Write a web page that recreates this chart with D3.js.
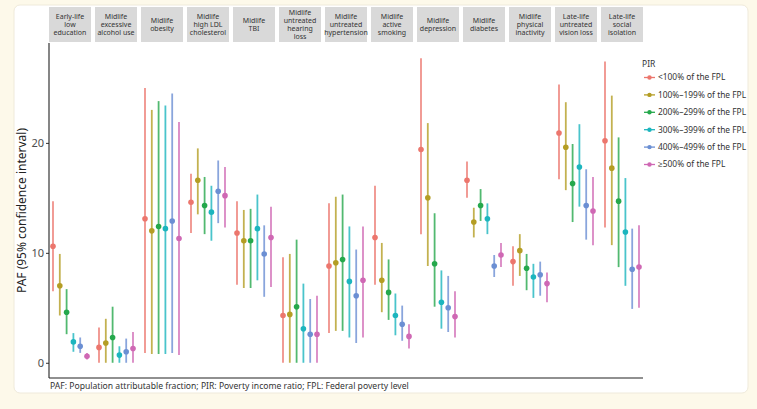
<!DOCTYPE html>
<html>
<head>
<meta charset="utf-8">
<script src="https://cdn.jsdelivr.net/npm/d3@7"></script>
<style>
  body { margin: 0; background: #fdf9ea; font-family: "Noto Sans", "Open Sans", sans-serif; }
  #chart svg { display: block; }
</style>
</head>
<body>
<div id="chart"></div>
<script>
// risk factors (one facet each), strip text split by line
var risks = [
    ["Early-life", "low", "education"],
    ["Midlife", "excessive", "alcohol use"],
    ["Midlife", "obesity"],
    ["Midlife", "high LDL", "cholesterol"],
    ["Midlife", "TBI"],
    ["Midlife", "untreated", "hearing", "loss"],
    ["Midlife", "untreated", "hypertension"],
    ["Midlife", "active", "smoking"],
    ["Midlife", "depression"],
    ["Midlife", "diabetes"],
    ["Midlife", "physical", "inactivity"],
    ["Late-life", "untreated", "vision loss"],
    ["Late-life", "social", "isolation"]
];

var pirGroups = ["<100% of the FPL", "100%\u2013199% of the FPL", "200%\u2013299% of the FPL",
    "300%\u2013399% of the FPL", "400%\u2013499% of the FPL", "\u2265500% of the FPL"];

var pirColors = ["#ec766d", "#b49d24", "#25a84c", "#1cb5be", "#6b8fd3", "#cf68b4"];

// PAF estimate per risk, one value per PIR group
var pafEst = [
    [10.6, 7.0, 4.6, 1.9, 1.5, 0.6],
    [1.4, 1.8, 2.3, 0.7, 1.0, 1.3],
    [13.1, 12.0, 12.4, 12.2, 12.9, 11.3],
    [14.6, 16.6, 14.3, 13.7, 15.6, 15.2],
    [11.8, 11.1, 11.1, 12.2, 9.9, 11.4],
    [4.3, 4.4, 5.1, 3.1, 2.6, 2.6],
    [8.8, 9.1, 9.4, 7.4, 6.1, 7.5],
    [11.4, 7.5, 6.4, 4.3, 3.5, 2.4],
    [19.4, 15.0, 9.0, 5.5, 5.0, 4.2],
    [16.6, 12.8, 14.3, 13.1, 8.8, 9.8],
    [9.2, 10.2, 8.6, 7.8, 8.0, 7.2],
    [20.9, 19.6, 16.3, 17.8, 14.3, 13.8],
    [20.2, 17.7, 14.7, 11.9, 8.5, 8.7]
];

var pafLow = [
    [6.5, 4.3, 2.6, 1.0, 0.9, 0.3],
    [0.0, 0.0, 0.0, 0.0, 0.0, 0.0],
    [0.9, 0.8, 0.8, 0.8, 0.9, 0.7],
    [11.8, 13.5, 11.7, 11.1, 12.7, 12.3],
    [7.1, 6.8, 6.8, 7.5, 6.0, 6.9],
    [0.0, 0.0, 0.0, 0.0, 0.0, 0.0],
    [2.7, 2.9, 2.9, 2.3, 1.8, 2.3],
    [7.1, 4.6, 3.9, 2.5, 2.0, 1.3],
    [11.7, 8.8, 5.1, 3.1, 2.8, 2.3],
    [15.0, 11.4, 12.9, 11.7, 7.8, 8.7],
    [7.0, 7.9, 6.6, 5.9, 6.1, 5.5],
    [16.7, 15.7, 12.8, 14.2, 11.2, 10.7],
    [12.3, 10.7, 8.7, 7.0, 4.9, 5.0]
];

var pafHigh = [
    [14.7, 9.9, 6.7, 2.7, 2.3, 0.9],
    [3.2, 4.0, 5.1, 1.5, 2.2, 2.8],
    [25.0, 23.0, 23.8, 23.4, 24.5, 21.9],
    [17.2, 19.5, 16.9, 16.1, 18.4, 17.8],
    [14.7, 13.9, 14.0, 15.3, 12.5, 14.2],
    [9.6, 9.9, 11.2, 7.2, 5.8, 6.1],
    [14.5, 15.1, 15.3, 12.4, 10.3, 12.4],
    [16.1, 10.9, 9.4, 6.3, 5.2, 3.5],
    [27.7, 21.8, 13.6, 8.4, 7.9, 6.5],
    [18.3, 14.1, 15.8, 14.5, 9.8, 10.9],
    [10.6, 11.7, 9.9, 9.0, 9.2, 8.2],
    [25.3, 23.7, 19.9, 21.7, 17.6, 16.9],
    [27.4, 24.3, 20.5, 16.8, 12.2, 12.5]
];

var yTicks = [0, 10, 20];
var footnote = "PAF: Population attributable fraction; PIR: Poverty income ratio; FPL: Federal poverty level";

var width = 757, height = 409;
var plotLeft = 49, plotRight = 643, plotTop = 43, plotBottom = 378;
var stripTop = 7;

var svg = d3.select("#chart").append("svg")
    .attr("width", width)
    .attr("height", height);

// card
svg.append("rect")
    .attr("x", 14).attr("y", 5)
    .attr("width", 734).attr("height", 388)
    .attr("rx", 6)
    .attr("fill", "#ffffff")
    .attr("stroke", "#efeadb");

// flatten rows
var rows = [];
risks.forEach(function(r, i) {
    pirGroups.forEach(function(g, j) {
        rows.push({risk: i, group: j, est: pafEst[i][j], lo: pafLow[i][j], hi: pafHigh[i][j]});
    });
});

var facetScale = d3.scaleBand()
    .domain(d3.range(risks.length))
    .range([plotLeft, plotRight])
    .paddingInner(4 / 46)
    .paddingOuter(0);

var dodge = d3.scalePoint()
    .domain(d3.range(pirGroups.length))
    .range([4, facetScale.bandwidth() - 4]);

var yMin = d3.min(rows, function(d) { return d.lo; });
var yMax = d3.max(rows, function(d) { return d.hi; });
var pad = (yMax - yMin) * 0.05;
var yScale = d3.scaleLinear()
    .domain([yMin - pad, yMax + pad])
    .range([plotBottom, plotTop]);

// strips
var strips = svg.selectAll("g.strip")
    .data(risks)
    .enter().append("g")
    .attr("class", "strip")
    .attr("transform", function(d, i) { return "translate(" + facetScale(i) + "," + stripTop + ")"; });

strips.append("rect")
    .attr("width", facetScale.bandwidth())
    .attr("height", plotTop - stripTop - 1)
    .attr("fill", "#d9d9d9");

strips.append("text")
    .attr("text-anchor", "middle")
    .attr("font-size", 7)
    .attr("fill", "#333")
    .each(function(lines) {
        var t = d3.select(this);
        var lh = 8.2;
        var mid = (plotTop - stripTop - 1) / 2;
        var start = mid - (lines.length - 1) * lh / 2 + 2.5;
        lines.forEach(function(l, k) {
            t.append("tspan")
                .attr("x", facetScale.bandwidth() / 2)
                .attr("y", start + k * lh)
                .text(l);
        });
    });

// y axis
var yAxis = svg.append("g")
    .attr("transform", "translate(" + plotLeft + ",0)")
    .call(d3.axisLeft(yScale).tickValues(yTicks).tickSize(3).tickPadding(2).tickSizeOuter(0));
yAxis.select(".domain").remove();
yAxis.selectAll("text")
    .attr("font-family", "Noto Sans, sans-serif")
    .attr("font-size", 11)
    .attr("fill", "#4d4d4d");
yAxis.selectAll("line").attr("stroke", "#333");

svg.append("line")
    .attr("x1", plotLeft).attr("x2", plotLeft)
    .attr("y1", plotTop).attr("y2", plotBottom)
    .attr("stroke", "#222").attr("stroke-width", 1.1);
svg.append("line")
    .attr("x1", plotLeft).attr("x2", plotRight)
    .attr("y1", plotBottom).attr("y2", plotBottom)
    .attr("stroke", "#222").attr("stroke-width", 1.1);

svg.append("text")
    .attr("transform", "translate(22," + ((plotTop + plotBottom) / 2) + ") rotate(-90)")
    .attr("text-anchor", "middle")
    .attr("dy", "0.35em")
    .attr("font-size", 12)
    .attr("fill", "#222")
    .text("PAF (95% confidence interval)");

// ranges + points
var xPos = function(d) { return facetScale(d.risk) + dodge(d.group); };

svg.append("g").selectAll("line")
    .data(rows)
    .enter().append("line")
    .attr("x1", xPos).attr("x2", xPos)
    .attr("y1", function(d) { return yScale(d.lo); })
    .attr("y2", function(d) { return yScale(d.hi); })
    .attr("stroke", function(d) { return pirColors[d.group]; })
    .attr("stroke-opacity", 0.8)
    .attr("stroke-width", 1.8);

svg.append("g").selectAll("circle")
    .data(rows)
    .enter().append("circle")
    .attr("cx", xPos)
    .attr("cy", function(d) { return yScale(d.est); })
    .attr("r", 2.8)
    .attr("fill", function(d) { return pirColors[d.group]; });

// legend
var legend = svg.append("g").attr("transform", "translate(642,0)");
legend.append("text")
    .attr("x", 0).attr("y", 67)
    .attr("font-size", 8.5)
    .attr("fill", "#333")
    .text("PIR");

var items = legend.selectAll("g.item")
    .data(pirGroups)
    .enter().append("g")
    .attr("class", "item")
    .attr("transform", function(d, i) { return "translate(0," + (77.5 + i * 17.4) + ")"; });
items.append("line")
    .attr("x1", 2).attr("x2", 13)
    .attr("stroke", function(d, i) { return pirColors[i]; })
    .attr("stroke-width", 1.3);
items.append("circle")
    .attr("cx", 7.5).attr("r", 2.2)
    .attr("fill", function(d, i) { return pirColors[i]; });
items.append("text")
    .attr("x", 16)
    .attr("dy", "0.35em")
    .attr("font-size", 8.4)
    .attr("fill", "#333")
    .text(function(d) { return d; });

// footnote
svg.append("text")
    .attr("x", plotLeft + 1).attr("y", 389)
    .attr("font-size", 8.6)
    .attr("fill", "#333")
    .text(footnote);
</script>
</body>
</html>
